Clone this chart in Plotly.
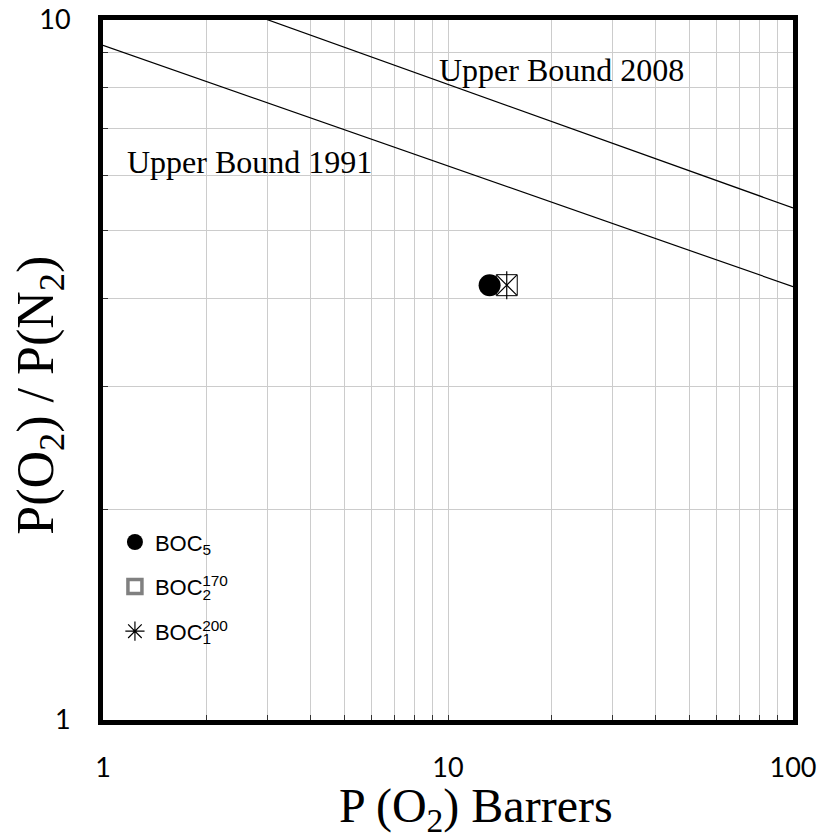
import plotly.graph_objects as go

# Data
bound_x = [1, 100]
ub1991_y = [9.2, 4.16]
ub2008_y = [12.15, 5.39]

boc5_x = [13.2]
boc5_y = [4.18]
boc2_x = [14.8]
boc2_y = [4.18]
boc1_x = [14.8]
boc1_y = [4.18]

x_tickvals = [1, 2, 3, 4, 5, 6, 7, 8, 9, 10, 20, 30, 40, 50, 60, 70, 80, 90, 100]
x_ticktext = ["1"] + [""] * 8 + ["10"] + [""] * 8 + ["100"]
y_tickvals = [1, 2, 3, 4, 5, 6, 7, 8, 9, 10]
y_ticktext = ["1"] + [""] * 8 + ["10"]

fig = go.Figure()

fig.add_trace(go.Scatter(x=bound_x, y=ub1991_y, mode="lines",
                         line=dict(color="black", width=1.2), showlegend=False, hoverinfo="skip"))
fig.add_trace(go.Scatter(x=bound_x, y=ub2008_y, mode="lines",
                         line=dict(color="black", width=1.2), showlegend=False, hoverinfo="skip"))

# plotted data points
fig.add_trace(go.Scatter(x=boc2_x, y=boc2_y, mode="markers", showlegend=False,
                         marker=dict(symbol="square", size=21, color="white",
                                     line=dict(color="black", width=1))))
fig.add_trace(go.Scatter(x=boc1_x, y=boc1_y, mode="markers", showlegend=False,
                         marker=dict(symbol="x-thin-open", size=20, color="black",
                                     line=dict(color="black", width=1.2))))
fig.add_trace(go.Scatter(x=boc1_x, y=boc1_y, mode="markers", showlegend=False,
                         marker=dict(symbol="line-ns-open", size=20, color="black",
                                     line=dict(color="black", width=1.2))))
fig.add_trace(go.Scatter(x=boc5_x, y=boc5_y, mode="markers", showlegend=False,
                         marker=dict(symbol="circle", size=22, color="black")))

SP = "<span style='letter-spacing:-9px'>{}</span>"
# legend entries
fig.add_trace(go.Scatter(x=[None], y=[None], mode="markers", name="BOC<sub>5</sub>",
                         legendgroup="a",
                         marker=dict(symbol="circle", size=17, color="black")))
fig.add_trace(go.Scatter(x=[None], y=[None], mode="markers",
                         name="BOC<sub>" + SP.format("2") + "</sub><sup>170</sup>",
                         legendgroup="b",
                         marker=dict(symbol="square-open", size=14, color="#808080",
                                     line=dict(color="#808080", width=3.5))))
fig.add_trace(go.Scatter(x=[None], y=[None], mode="markers",
                         name="BOC<sub>" + SP.format("1") + "</sub><sup>200</sup>",
                         legendgroup="c",
                         marker=dict(symbol="asterisk-open", size=18, color="black",
                                     line=dict(color="black", width=1.2))))

fig.add_annotation(text="Upper Bound 2008", xref="paper", yref="paper", x=0.665, y=0.929,
                   xanchor="center", yanchor="middle",
                   showarrow=False, font=dict(family="Liberation Serif", size=32, color="black"))
fig.add_annotation(text="Upper Bound 1991", xref="paper", yref="paper", x=0.213, y=0.797,
                   xanchor="center", yanchor="middle",
                   showarrow=False, font=dict(family="Liberation Serif", size=32, color="black"))
# axis titles
fig.add_annotation(text="P(O<sub>2</sub>) / P(N<sub>2</sub>)", xref="paper", yref="paper",
                   x=-0.092, y=0.464, xanchor="center", yanchor="middle", textangle=-90,
                   showarrow=False, font=dict(family="Liberation Serif", size=52, color="black"))
fig.add_annotation(text="P (O<sub>2</sub>) Barrers", xref="paper", yref="paper",
                   x=0.541, y=-0.082, xanchor="center", yanchor="top",
                   showarrow=False, font=dict(family="Liberation Serif", size=48, color="black"))

axis_common = dict(
    type="log", automargin=False,
    showgrid=True, gridcolor="#cccccc", gridwidth=1.3,
    showline=True, linecolor="black", linewidth=5, mirror=True,
    ticks="inside", ticklen=5, tickwidth=1.3, tickcolor="#333333", zeroline=False,
    tickfont=dict(family="Lato", size=27, color="black"),
)

fig.update_xaxes(**axis_common, range=[0, 2], tickmode="array",
                 tickvals=x_tickvals, ticktext=x_ticktext, ticklabelstandoff=20)
fig.update_yaxes(**axis_common, range=[0, 1], tickmode="array",
                 tickvals=y_tickvals, ticktext=y_ticktext, ticklabelstandoff=22)

fig.update_layout(
    width=822, height=838,
    margin=dict(l=103, r=29, t=20, b=118),
    plot_bgcolor="white", paper_bgcolor="white",
    legend=dict(x=0.0173, y=0.284, xanchor="left", yanchor="top",
                bgcolor="rgba(0,0,0,0)", borderwidth=0,
                font=dict(family="Liberation Sans", size=22, color="black"),
                tracegroupgap=13, itemwidth=30),
    showlegend=True,
)

fig.write_html("out.html")
